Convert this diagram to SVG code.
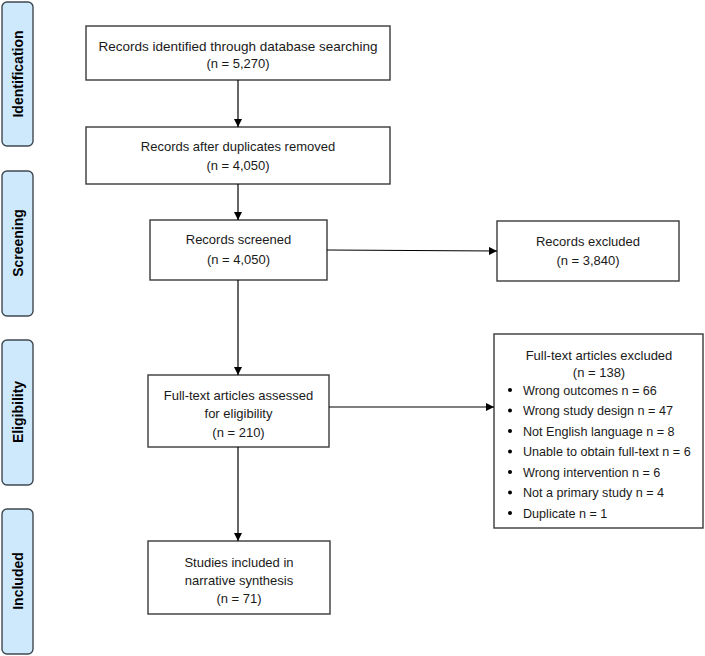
<svg xmlns="http://www.w3.org/2000/svg" width="705" height="656" viewBox="0 0 705 656">
<defs>
<marker id="ah" viewBox="0 0 10 10" refX="10" refY="5" markerWidth="8" markerHeight="8" markerUnits="userSpaceOnUse" orient="auto">
<path d="M0,0 L10,5 L0,10 z" fill="#000"/>
</marker>
<style>
.box{fill:#fff;stroke:#3a3a3a;stroke-width:1.4}
.phase{fill:#cde9fb;stroke:#3f4850;stroke-width:1.4}
.t{font-family:"Liberation Sans",Arial,sans-serif;font-size:13px;fill:#1a1a1a;text-anchor:middle}
.l{font-family:"Liberation Sans",Arial,sans-serif;font-size:12.6px;fill:#1a1a1a}
.p{font-family:"Liberation Sans",Arial,sans-serif;font-size:14px;font-weight:bold;fill:#000;text-anchor:middle}
.c{fill:none;stroke:#000;stroke-width:1.2;marker-end:url(#ah)}
</style>
</defs>
<rect width="705" height="656" fill="#fff"/>
<g id="phase-identification">
<rect class="phase" x="2" y="2" width="31" height="144" rx="5"/>
<text class="p" transform="translate(23,74) rotate(-90)">Identification</text>
</g>
<g id="phase-screening">
<rect class="phase" x="2" y="171" width="31" height="145" rx="5"/>
<text class="p" transform="translate(23,243) rotate(-90)">Screening</text>
</g>
<g id="phase-eligibility">
<rect class="phase" x="2" y="340" width="31" height="145" rx="5"/>
<text class="p" transform="translate(23,412) rotate(-90)">Eligibility</text>
</g>
<g id="phase-included">
<rect class="phase" x="2" y="509" width="31" height="145" rx="5"/>
<text class="p" transform="translate(23,581) rotate(-90)">Included</text>
</g>
<g id="identified">
<rect class="box" x="86" y="26" width="304" height="54"/>
<text class="t" x="238" y="50.5" textLength="279" lengthAdjust="spacingAndGlyphs">Records identified through database searching</text>
<text class="t" x="238" y="67.5">(n = 5,270)</text>
</g>
<g id="deduplicated">
<rect class="box" x="86" y="127" width="304" height="57"/>
<text class="t" x="238" y="151">Records after duplicates removed</text>
<text class="t" x="238" y="170">(n = 4,050)</text>
</g>
<g id="screened">
<rect class="box" x="150" y="220" width="177" height="60"/>
<text class="t" x="238.5" y="243.5">Records screened</text>
<text class="t" x="238.5" y="263.5">(n = 4,050)</text>
</g>
<g id="excluded">
<rect class="box" x="497" y="221" width="182" height="60"/>
<text class="t" x="588" y="245.5">Records excluded</text>
<text class="t" x="588" y="264.5">(n = 3,840)</text>
</g>
<g id="fulltext">
<rect class="box" x="148" y="375" width="181" height="72"/>
<text class="t" x="238.5" y="399.5">Full-text articles assessed</text>
<text class="t" x="238.5" y="417.5">for eligibility</text>
<text class="t" x="238.5" y="436.5">(n = 210)</text>
</g>
<g id="fulltext-excluded">
<rect class="box" x="494" y="334" width="209" height="194"/>
<text class="t" x="599" y="359.5">Full-text articles excluded</text>
<text class="t" x="599" y="376.5">(n = 138)</text>
<g fill="#000">
<circle cx="510" cy="390" r="2"/>
<circle cx="510" cy="410.5" r="2"/>
<circle cx="510" cy="431" r="2"/>
<circle cx="510" cy="451.5" r="2"/>
<circle cx="510" cy="472" r="2"/>
<circle cx="510" cy="492.5" r="2"/>
<circle cx="510" cy="513" r="2"/>
</g>
<text class="l" x="523" y="394.5">Wrong outcomes n = 66</text>
<text class="l" x="523" y="415">Wrong study design n = 47</text>
<text class="l" x="523" y="435.5">Not English language n = 8</text>
<text class="l" x="523" y="456">Unable to obtain full-text n = 6</text>
<text class="l" x="523" y="476.5">Wrong intervention n = 6</text>
<text class="l" x="523" y="497">Not a primary study n = 4</text>
<text class="l" x="523" y="517.5">Duplicate n = 1</text>
</g>
<g id="included">
<rect class="box" x="148" y="541" width="182" height="73"/>
<text class="t" x="239" y="566.5">Studies included in</text>
<text class="t" x="239" y="584.5">narrative synthesis</text>
<text class="t" x="239" y="602.5">(n = 71)</text>
</g>
<g id="connectors">
<line class="c" x1="238" y1="80" x2="238" y2="127"/>
<line class="c" x1="238" y1="184" x2="238" y2="220"/>
<line class="c" x1="238" y1="280" x2="238" y2="375"/>
<line class="c" x1="238" y1="447" x2="238" y2="541"/>
<line class="c" x1="327" y1="250" x2="497" y2="251"/>
<line class="c" x1="329" y1="407" x2="494" y2="407"/>
</g>
</svg>
